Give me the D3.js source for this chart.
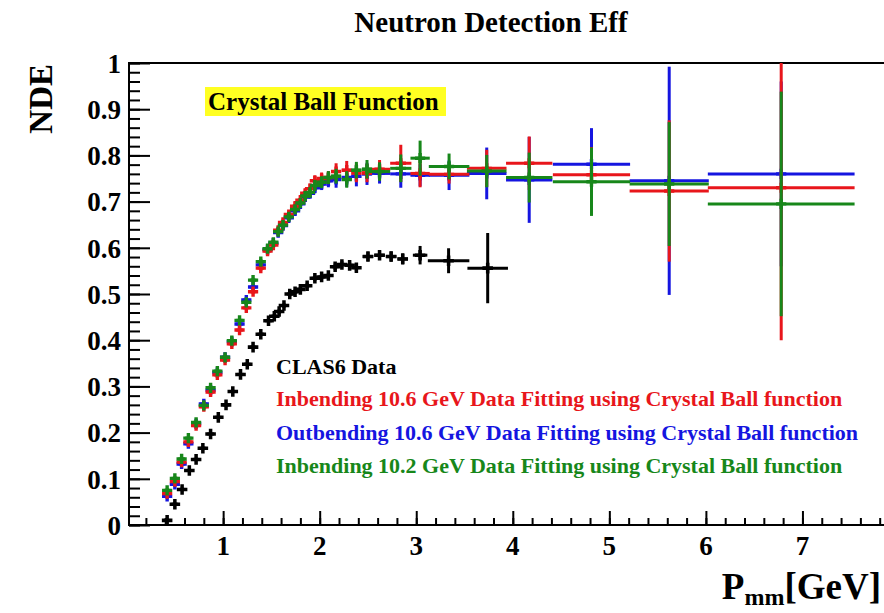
<!DOCTYPE html>
<html>
<head>
<meta charset="utf-8">
<script src="https://cdn.jsdelivr.net/npm/d3@7"></script>
<style>
  html, body { margin: 0; padding: 0; background: #fff; }
  svg { display: block; }
  text { font-family: "Liberation Serif", "Times New Roman", serif; font-weight: bold; }
</style>
</head>
<body>
<svg id="chart" width="884" height="613"></svg>
<script>
// CLAS6 neutron detection efficiency
const clasP      = [0.42,0.50,0.575,0.65,0.72,0.79,0.87,0.95,1.03,1.10,1.18,1.25,1.31,1.39,1.47,1.53,1.58,1.63,1.69,1.745,1.80,1.87,1.95,2.02,2.09,2.16,2.23,2.31,2.38,2.50,2.62,2.74,2.86,3.04,3.335,3.74];
const clasNDE    = [0.010,0.045,0.077,0.118,0.142,0.166,0.197,0.233,0.260,0.289,0.326,0.348,0.385,0.413,0.442,0.452,0.462,0.475,0.500,0.505,0.510,0.518,0.534,0.537,0.540,0.559,0.564,0.562,0.557,0.581,0.584,0.581,0.576,0.584,0.572,0.556];
const clasPErr   = [0.035,0.035,0.035,0.035,0.035,0.035,0.035,0.035,0.035,0.035,0.035,0.035,0.035,0.035,0.035,0.03,0.03,0.03,0.03,0.03,0.03,0.035,0.035,0.035,0.035,0.035,0.035,0.035,0.035,0.055,0.055,0.055,0.055,0.075,0.215,0.21];
const clasNDEErr = [0.004,0.004,0.004,0.004,0.004,0.004,0.004,0.004,0.004,0.004,0.004,0.004,0.004,0.004,0.005,0.005,0.005,0.005,0.005,0.005,0.005,0.006,0.006,0.006,0.006,0.007,0.007,0.007,0.008,0.01,0.01,0.011,0.012,0.02,0.027,0.076];

// Crystal Ball fit results, common momentum bins for the three CLAS12 samples
const fitP    = [0.42,0.50,0.57,0.64,0.72,0.80,0.87,0.94,1.02,1.09,1.17,1.24,1.31,1.39,1.46,1.52,1.57,1.62,1.68,1.745,1.80,1.85,1.90,1.95,2.02,2.09,2.17,2.28,2.38,2.49,2.62,2.84,3.04,3.34,3.73,4.17,4.815,5.62,6.78];
const fitPErr = [0.035,0.035,0.035,0.035,0.035,0.035,0.035,0.035,0.035,0.035,0.035,0.035,0.035,0.035,0.035,0.028,0.028,0.028,0.028,0.028,0.028,0.028,0.028,0.028,0.035,0.035,0.05,0.05,0.05,0.05,0.11,0.11,0.10,0.21,0.205,0.24,0.40,0.41,0.76];

// Inbending 10.6 GeV
const inb106NDE = [0.068,0.094,0.136,0.180,0.215,0.256,0.288,0.325,0.357,0.392,0.422,0.470,0.505,0.556,0.593,0.606,0.638,0.655,0.672,0.690,0.703,0.718,0.728,0.745,0.750,0.752,0.765,0.768,0.762,0.762,0.770,0.783,0.761,0.759,0.772,0.783,0.758,0.723,0.730];
const inb106Err = [0.004,0.004,0.004,0.004,0.004,0.004,0.004,0.004,0.004,0.005,0.005,0.005,0.005,0.006,0.006,0.008,0.008,0.008,0.009,0.009,0.010,0.010,0.011,0.012,0.013,0.014,0.018,0.020,0.020,0.020,0.020,0.040,0.030,0.020,0.040,0.058,0.060,0.153,0.330];

// Outbending 10.6 GeV
const outb106NDE = [0.062,0.088,0.132,0.176,0.219,0.262,0.292,0.330,0.363,0.397,0.435,0.487,0.515,0.563,0.596,0.610,0.633,0.648,0.665,0.680,0.695,0.710,0.718,0.730,0.738,0.745,0.748,0.752,0.755,0.760,0.761,0.760,0.757,0.757,0.761,0.747,0.781,0.745,0.760];
const outb106Err = [0.004,0.004,0.004,0.004,0.004,0.004,0.004,0.004,0.004,0.005,0.005,0.005,0.005,0.006,0.006,0.008,0.008,0.008,0.009,0.009,0.010,0.010,0.011,0.012,0.013,0.014,0.018,0.020,0.022,0.024,0.022,0.030,0.024,0.032,0.056,0.093,0.078,0.247,0.200];

// Inbending 10.2 GeV
const inb102NDE = [0.075,0.101,0.143,0.188,0.222,0.259,0.297,0.333,0.363,0.399,0.443,0.482,0.530,0.570,0.598,0.612,0.635,0.649,0.667,0.683,0.697,0.712,0.720,0.735,0.742,0.752,0.755,0.748,0.768,0.770,0.765,0.772,0.794,0.776,0.766,0.752,0.743,0.738,0.695];
const inb102Err = [0.004,0.004,0.004,0.004,0.004,0.004,0.004,0.004,0.004,0.005,0.005,0.005,0.005,0.006,0.006,0.008,0.008,0.008,0.009,0.009,0.010,0.010,0.011,0.012,0.013,0.014,0.016,0.018,0.018,0.020,0.020,0.030,0.038,0.028,0.035,0.054,0.074,0.134,0.243];

const yTickValues = [0,0.1,0.2,0.3,0.4,0.5,0.6,0.7,0.8,0.9,1];
const yTickLabels = ["0","0.1","0.2","0.3","0.4","0.5","0.6","0.7","0.8","0.9","1"];
const xTickValues = [1,2,3,4,5,6,7];

const legendLabels = [
  "CLAS6 Data",
  "Inbending 10.6 GeV Data Fitting using Crystal Ball function",
  "Outbending 10.6 GeV Data Fitting using Crystal Ball function",
  "Inbending 10.2 GeV Data Fitting using Crystal Ball function"
];
const legendColors = ["#000000", "#e8161b", "#1515e0", "#17871a"];

const svg = d3.select("#chart");
const frame = { left: 129, top: 63, right: 899, bottom: 525 };

const x = d3.scaleLinear().domain([0.025, 8]).range([frame.left, frame.right]);
const y = d3.scaleLinear().domain([0, 1]).range([frame.bottom, frame.top]);

// clip region for the data
svg.append("defs").append("clipPath").attr("id", "plotclip")
  .append("rect").attr("x", frame.left).attr("y", frame.top)
  .attr("width", frame.right - frame.left).attr("height", frame.bottom - frame.top);

// frame
svg.append("rect")
  .attr("x", frame.left).attr("y", frame.top)
  .attr("width", frame.right - frame.left).attr("height", frame.bottom - frame.top)
  .attr("fill", "none").attr("stroke", "#000").attr("stroke-width", 2);

// y axis ticks (major every 0.1, minor every 0.02), drawn inside the frame
const yAxisMinor = d3.axisRight(y).tickValues(d3.range(0, 1.0001, 0.02)).tickSize(11).tickFormat("");
const yAxisMajor = d3.axisRight(y).tickValues(yTickValues).tickSize(21).tickFormat("");
[yAxisMinor, yAxisMajor].forEach(ax => {
  const g = svg.append("g").attr("transform", `translate(${frame.left},0)`).call(ax);
  g.select(".domain").remove();
  g.selectAll("line").attr("stroke", "#000").attr("stroke-width", 2);
});
svg.append("g").selectAll("text").data(yTickValues).join("text")
  .attr("x", 121).attr("y", d => y(d)).attr("dy", "0.36em")
  .attr("text-anchor", "end").attr("font-size", 27)
  .text((d, i) => yTickLabels[i]);

// x axis ticks (major every 1, minor every 0.2)
const xAxisMinor = d3.axisTop(x).tickValues(d3.range(0.2, 8.0, 0.2)).tickSize(7).tickFormat("");
const xAxisMajor = d3.axisTop(x).tickValues(xTickValues).tickSize(14).tickFormat("");
[xAxisMinor, xAxisMajor].forEach(ax => {
  const g = svg.append("g").attr("transform", `translate(0,${frame.bottom})`).call(ax);
  g.select(".domain").remove();
  g.selectAll("line").attr("stroke", "#000").attr("stroke-width", 2);
});
svg.append("g").selectAll("text").data(xTickValues).join("text")
  .attr("x", d => x(d)).attr("y", 555)
  .attr("text-anchor", "middle").attr("font-size", 27)
  .text(d => d);

// data layer
const plot = svg.append("g").attr("clip-path", "url(#plotclip)");

function drawSeries(px, pxErr, vals, errs, color, lw, markerSize) {
  const pts = px.map((p, i) => ({ p, ep: pxErr[i], v: vals[i], ev: errs[i] }));
  const g = plot.append("g");
  g.selectAll("line.h").data(pts).join("line").attr("class", "h")
    .attr("x1", d => x(d.p - d.ep)).attr("x2", d => x(d.p + d.ep))
    .attr("y1", d => y(d.v)).attr("y2", d => y(d.v))
    .attr("stroke", color).attr("stroke-width", lw);
  g.selectAll("line.v").data(pts).join("line").attr("class", "v")
    .attr("x1", d => x(d.p)).attr("x2", d => x(d.p))
    .attr("y1", d => y(d.v - d.ev)).attr("y2", d => y(d.v + d.ev))
    .attr("stroke", color).attr("stroke-width", lw);
  g.selectAll("path").data(pts).join("path")
    .attr("transform", d => `translate(${x(d.p)},${y(d.v)})`)
    .attr("d", d3.symbol(d3.symbolCross, markerSize))
    .attr("fill", color);
}

drawSeries(clasP, clasPErr, clasNDE, clasNDEErr, legendColors[0], 3, 62);
drawSeries(fitP, fitPErr, outb106NDE, outb106Err, legendColors[2], 3, 58);
drawSeries(fitP, fitPErr, inb106NDE, inb106Err, legendColors[1], 3, 58);
drawSeries(fitP, fitPErr, inb102NDE, inb102Err, legendColors[3], 3, 58);

// title
svg.append("text").attr("x", 491).attr("y", 32)
  .attr("text-anchor", "middle").attr("font-size", 29)
  .text("Neutron Detection Eff");

// y axis title
svg.append("text").attr("transform", "translate(52,64) rotate(-90)")
  .attr("text-anchor", "end").attr("font-size", 33)
  .text("NDE");

// x axis title with subscript
const xt = svg.append("text").attr("x", 881).attr("y", 599)
  .attr("text-anchor", "end").attr("font-size", 37);
xt.append("tspan").text("P");
xt.append("tspan").attr("font-size", 24).attr("dy", 6).text("mm");
xt.append("tspan").attr("dy", -6).text("[GeV]");

// fit function label on a yellow box
svg.append("rect").attr("x", 205).attr("y", 87).attr("width", 241).attr("height", 29)
  .attr("fill", "#ffff22");
svg.append("text").attr("x", 208).attr("y", 110).attr("font-size", 25)
  .text("Crystal Ball Function");

// legend
svg.append("g").selectAll("text").data(legendLabels).join("text")
  .attr("x", 276).attr("y", (d, i) => [374, 406, 440, 473][i])
  .attr("font-size", 22)
  .attr("fill", (d, i) => legendColors[i])
  .text(d => d);
</script>
</body>
</html>
